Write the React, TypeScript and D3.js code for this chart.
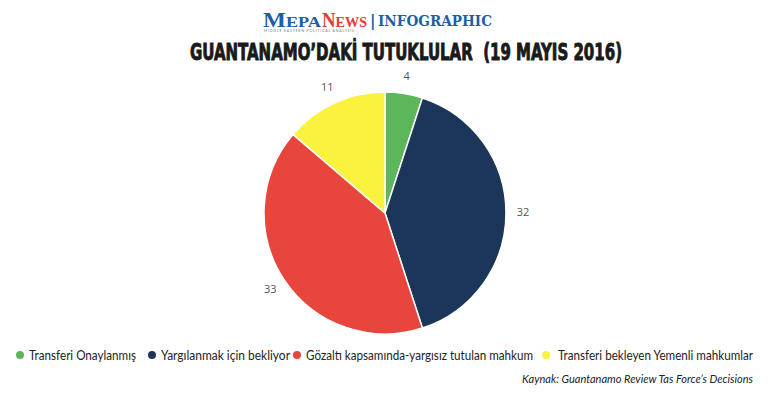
import React from "react";
import * as d3 from "d3";

const categories = [
  "Transferi Onaylanmış",
  "Yargılanmak için bekliyor",
  "Gözaltı kapsamında-yargısız tutulan mahkum",
  "Transferi bekleyen Yemenli mahkumlar",
];
const values = [4, 32, 33, 11];
const colors = ["#5cb65a", "#1b3659", "#e8453c", "#fbf23f"];

// legend layout (x of dot, width of label)
const legendX = [20, 152, 297, 546];
const legendW = [107, 129, 227, 195];

const W = 768;
const H = 397;
const cx = 385;
const cy = 213;
const R = 121;

const App: React.FC = () => {
  const pie = d3
    .pie<number>()
    .sort(null)
    .value((d) => d);
  const arcs = pie(values);
  const arc = d3.arc<d3.PieArcDatum<number>>().innerRadius(0).outerRadius(R);
  const labelArc = d3
    .arc<d3.PieArcDatum<number>>()
    .innerRadius(138)
    .outerRadius(138);

  const sans = "Lato, 'Open Sans', sans-serif";

  return (
    <svg
      width={W}
      height={H}
      style={{ position: "absolute", left: 0, top: 0, background: "#fff" }}
    >
      {/* logo */}
      <g fontFamily="'Liberation Serif', 'DejaVu Serif', serif" fontWeight="bold">
        <text
          x={263}
          y={27}
          fill="#1d5ea8"
          textLength={58}
          lengthAdjust="spacingAndGlyphs"
        >
          <tspan fontSize={20}>M</tspan><tspan fontSize={15}>EPA</tspan>
        </text>
        <text
          x={322}
          y={27}
          fill="#e53a35"
          textLength={45}
          lengthAdjust="spacingAndGlyphs"
        >
          <tspan fontSize={20}>N</tspan><tspan fontSize={15}>EWS</tspan>
        </text>
      </g>
      <text
        x={370}
        y={26}
        fill="#1d5ea8"
        fontFamily="'DejaVu Sans', sans-serif"
        fontWeight="bold"
        fontSize={15}
      >
        |
      </text>
      <text
        x={378}
        y={26}
        fill="#1d5ea8"
        fontFamily="'DejaVu Serif', serif"
        fontWeight="bold"
        fontSize={15}
        textLength={114}
        lengthAdjust="spacingAndGlyphs"
      >
        INFOGRAPHIC
      </text>
      <text
        x={264}
        y={32}
        fill="#777"
        fontFamily={sans}
        fontSize={3.5}
        textLength={90}
        lengthAdjust="spacing"
      >
        MIDDLE EASTERN POLITICAL ANALYSIS
      </text>

      {/* title */}
      <text
        x={190}
        y={60}
        fill="#1a1a1a"
        stroke="#1a1a1a"
        strokeWidth={0.9}
        fontFamily="'DejaVu Sans Condensed', 'DejaVu Sans', sans-serif"
        fontWeight="bold"
        fontSize={23}
        textLength={432}
        lengthAdjust="spacingAndGlyphs"
        style={{ whiteSpace: "pre" }}
      >
        GUANTANAMO’DAKİ TUTUKLULAR  (19 MAYIS 2016)
      </text>

      {/* pie */}
      <g transform={`translate(${cx},${cy})`}>
        {arcs.map((a, i) => (
          <path
            key={i}
            d={arc(a) || ""}
            fill={colors[i]}
            stroke="#fff"
            strokeWidth={1.5}
          />
        ))}
        {arcs.map((a, i) => {
          const [x, y] = labelArc.centroid(a);
          return (
            <text
              key={i}
              x={x}
              y={y}
              textAnchor="middle"
              dominantBaseline="middle"
              fill="#555"
              fontFamily="'Open Sans', sans-serif"
              fontSize={11}
            >
              {values[i]}
            </text>
          );
        })}
      </g>

      {/* legend */}
      <g fontFamily={sans} fontSize={13.5} fill="#222">
        {categories.map((c, i) => (
          <g key={c}>
            <circle cx={legendX[i]} cy={355} r={4} fill={colors[i]} />
            <text
              x={legendX[i] + (i === 3 ? 12 : 9)}
              y={359.5}
              textLength={legendW[i]}
              lengthAdjust="spacingAndGlyphs"
            >
              {c}
            </text>
          </g>
        ))}
      </g>

      {/* source */}
      <text
        x={753}
        y={383}
        textAnchor="end"
        fill="#222"
        fontFamily={sans}
        fontStyle="italic"
        fontSize={12}
        textLength={231}
        lengthAdjust="spacingAndGlyphs"
      >
        Kaynak: Guantanamo Review Tas Force’s Decisions
      </text>
    </svg>
  );
};

export default App;
